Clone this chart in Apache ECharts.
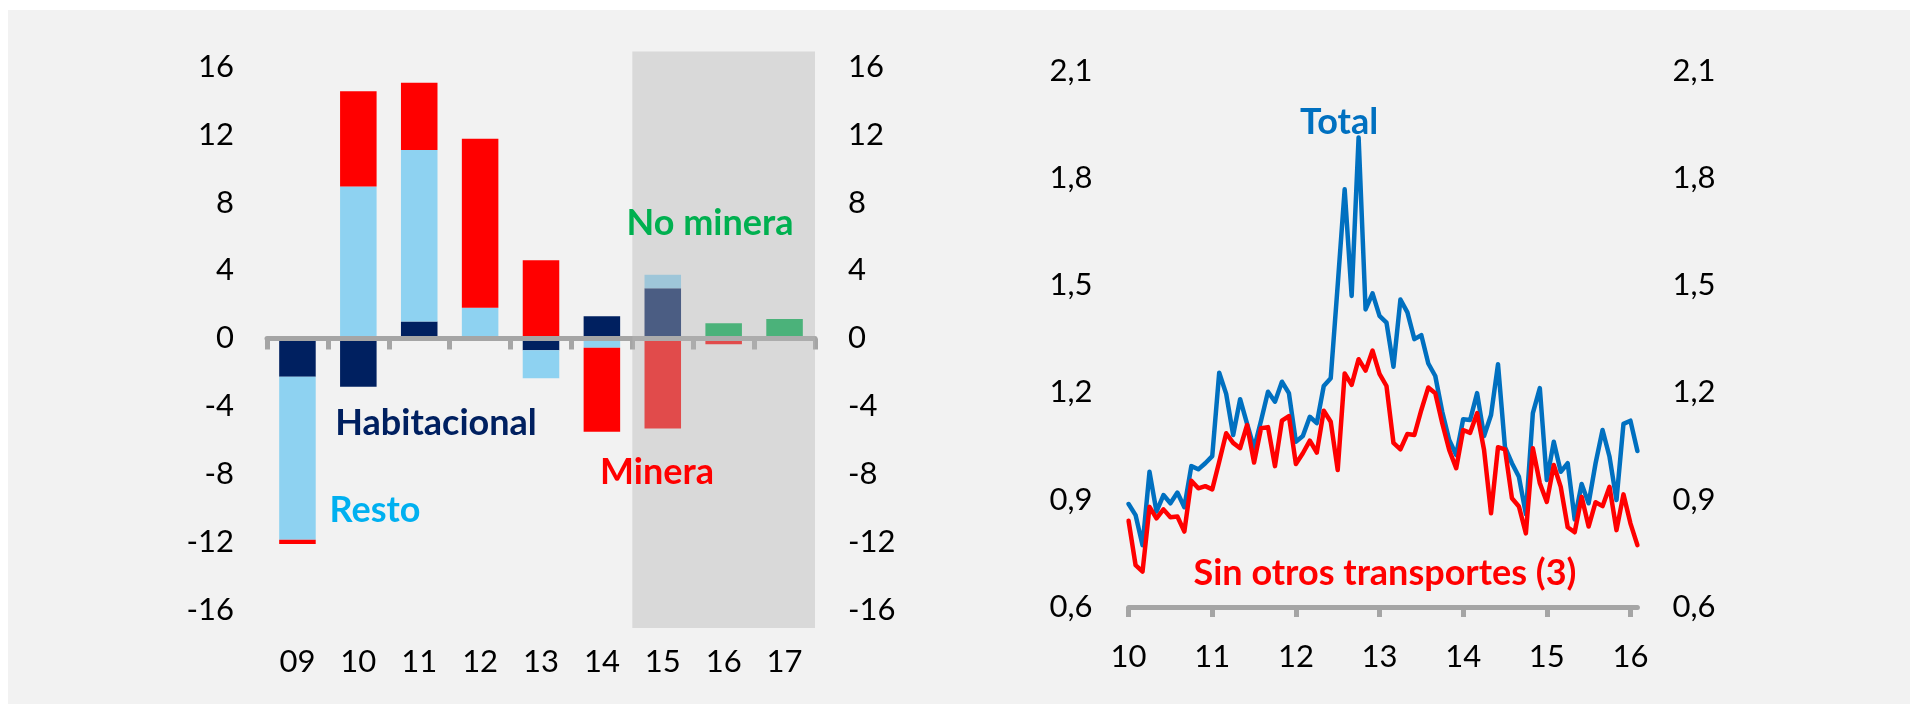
<!DOCTYPE html>
<html>
<head>
<meta charset="utf-8">
<script src="https://cdn.jsdelivr.net/npm/echarts@6/dist/echarts.min.js"></script>
<style>
  html, body { margin: 0; padding: 0; background: #fff; }
  #panel { position: absolute; left: 8px; top: 10px; width: 1902px; height: 694px; background: #f2f2f2; }
  #chart { position: absolute; left: 0; top: 0; width: 1910px; height: 704px; }
</style>
</head>
<body>
<div id="panel"></div>
<div id="chart"></div>
<script>
// izquierda: contribuciones por año (pp)
const years = ['09', '10', '11', '12', '13', '14', '15', '16', '17']
const habitacional = [-2.25, -2.85, 1.0, null, -0.7, 1.3, 2.95, null, null]
const resto = [-9.6, 8.95, 10.1, 1.8, -1.65, -0.55, 0.8, null, null]
const minera = [-0.25, 5.6, 3.95, 9.95, 4.6, -4.95, -5.3, -0.35, null]
const noMinera = [null, null, null, null, null, null, null, 0.9, 1.15]
const leftTicks = [-16, -12, -8, -4, 0, 4, 8, 12, 16]
// zona proyectada (índices de 15 a 17)
const projected = [[6, 8]]

// derecha: series mensuales ene-2010 a feb-2016
const total = [
  0.888, 0.857, 0.773, 0.978, 0.867, 0.913, 0.890, 0.920, 0.879, 0.994, 0.985, 1.002,
  1.022, 1.255, 1.196, 1.081, 1.181, 1.112, 1.044, 1.121, 1.202, 1.174, 1.230, 1.198,
  1.062, 1.078, 1.132, 1.114, 1.218, 1.240, 1.500, 1.768, 1.470, 1.913, 1.432, 1.477,
  1.414, 1.395, 1.272, 1.460, 1.424, 1.349, 1.360, 1.281, 1.246, 1.146, 1.067, 1.025,
  1.125, 1.123, 1.198, 1.078, 1.137, 1.279, 1.047, 1.002, 0.964, 0.860, 1.142, 1.212,
  0.955, 1.062, 0.978, 1.002, 0.845, 0.944, 0.890, 1.002, 1.095, 1.020, 0.899, 1.112,
  1.121, 1.036
]
const sinOtros = [
  0.841, 0.717, 0.699, 0.880, 0.848, 0.873, 0.851, 0.853, 0.811, 0.953, 0.932, 0.938,
  0.929, 1.006, 1.086, 1.059, 1.044, 1.109, 1.004, 1.100, 1.103, 0.994, 1.121, 1.134,
  1.000, 1.030, 1.065, 1.032, 1.149, 1.118, 0.983, 1.253, 1.221, 1.293, 1.261, 1.317,
  1.252, 1.218, 1.059, 1.041, 1.084, 1.081, 1.151, 1.214, 1.198, 1.114, 1.039, 0.988,
  1.095, 1.087, 1.142, 1.039, 0.862, 1.047, 1.041, 0.904, 0.881, 0.806, 1.044, 0.946,
  0.894, 0.997, 0.936, 0.823, 0.809, 0.908, 0.825, 0.893, 0.882, 0.936, 0.815, 0.915,
  0.834, 0.773
]
const yearLabels = ['10', '11', '12', '13', '14', '15', '16']
const rightTicks = [0.6, 0.9, 1.2, 1.5, 1.8, 2.1]

const months = []
for (let i = 0; i < total.length; i++) {
  months.push((2010 + Math.floor(i / 12)) + '-' + String(i % 12 + 1).padStart(2, '0'))
}

const FONT = 'Lato, "Liberation Sans", sans-serif'
const AXIS_GRAY = '#a5a5a5'
const labelStyle = { color: '#000', fontFamily: FONT, fontSize: 31 }

const chart = echarts.init(document.getElementById('chart'))

function annot(text, x, y, color) {
  return {
    type: 'text', x: x, y: y, z: 100,
    style: {
      text: text, fill: color, textAlign: 'center', textVerticalAlign: 'middle',
      font: 'bold 36px ' + FONT
    }
  }
}

const option = {
  animation: false,
  backgroundColor: 'transparent',
  grid: [
    { left: 267, right: 1095, top: 51.4, bottom: 76 },
    { left: 1128.6, right: 272.6, top: 70.6, bottom: 97 }
  ],
  xAxis: [
    {
      gridIndex: 0, type: 'category', data: years, z: 5,
      axisLine: { onZero: true, lineStyle: { color: AXIS_GRAY, width: 5 } },
      axisTick: { show: true, interval: 0, length: 11, lineStyle: { color: AXIS_GRAY, width: 5 } },
      axisLabel: { show: false }
    },
    {
      gridIndex: 0, type: 'category', data: years, position: 'bottom',
      axisLine: { show: false, onZero: false }, axisTick: { show: false },
      axisLabel: Object.assign({ interval: 0, margin: 18 }, labelStyle)
    },
    {
      gridIndex: 1, type: 'category', data: months, boundaryGap: false,
      axisLine: { lineStyle: { color: AXIS_GRAY, width: 5 } },
      axisTick: {
        show: true, length: 10, lineStyle: { color: AXIS_GRAY, width: 5 },
        interval: function (i) { return i % 12 === 0 }
      },
      axisLabel: Object.assign({
        margin: 34,
        interval: function (i) { return i % 12 === 0 },
        formatter: function (v, i) { return yearLabels[i / 12] }
      }, labelStyle)
    }
  ],
  yAxis: [
    {
      gridIndex: 0, type: 'value', min: -17.05, max: 16.9, position: 'left',
      splitLine: { show: false }, axisLine: { show: false }, axisTick: { show: false },
      axisLabel: Object.assign({ margin: 33, customValues: leftTicks }, labelStyle)
    },
    {
      gridIndex: 0, type: 'value', min: -17.05, max: 16.9, position: 'right',
      splitLine: { show: false }, axisLine: { show: false }, axisTick: { show: false },
      axisLabel: Object.assign({ margin: 33, customValues: leftTicks }, labelStyle)
    },
    {
      gridIndex: 1, type: 'value', min: 0.6, max: 2.1, position: 'left',
      splitLine: { show: false }, axisLine: { show: false }, axisTick: { show: false },
      axisLabel: Object.assign({
        margin: 36, customValues: rightTicks,
        formatter: function (v) { return v.toFixed(1).replace('.', ',') }
      }, labelStyle)
    },
    {
      gridIndex: 1, type: 'value', min: 0.6, max: 2.1, position: 'right',
      splitLine: { show: false }, axisLine: { show: false }, axisTick: { show: false },
      axisLabel: Object.assign({
        margin: 35, customValues: rightTicks,
        formatter: function (v) { return v.toFixed(1).replace('.', ',') }
      }, labelStyle)
    }
  ],
  series: [
    { name: 'Habitacional', type: 'bar', stack: 'c', barWidth: '60%', data: habitacional, itemStyle: { color: '#002060' } },
    { name: 'Resto', type: 'bar', stack: 'c', data: resto, itemStyle: { color: '#8ed2f1' } },
    { name: 'Minera', type: 'bar', stack: 'c', data: minera, itemStyle: { color: '#ff0000' } },
    { name: 'No minera', type: 'bar', stack: 'c', data: noMinera, itemStyle: { color: '#00b050' } },
    {
      name: 'proyeccion', type: 'custom', xAxisIndex: 0, yAxisIndex: 0, z: 10,
      data: projected, silent: true,
      renderItem: function (params, api) {
        const cs = params.coordSys
        const p0 = api.coord([api.value(0), 0])
        const p1 = api.coord([api.value(1), 0])
        const bw = api.size([1, 0])[0]
        return {
          type: 'rect',
          shape: { x: p0[0] - bw / 2, y: cs.y, width: p1[0] - p0[0] + bw, height: cs.height },
          style: { fill: 'rgba(183,183,183,0.41)' }
        }
      }
    },
    {
      name: 'Total', type: 'line', xAxisIndex: 2, yAxisIndex: 2, data: total, showSymbol: false,
      lineStyle: { color: '#0070c0', width: 4.5, cap: 'round', join: 'round' }
    },
    {
      name: 'Sin otros transportes (3)', type: 'line', xAxisIndex: 2, yAxisIndex: 2, data: sinOtros, showSymbol: false,
      lineStyle: { color: '#ff0000', width: 4.5, cap: 'round', join: 'round' }
    }
  ],
  graphic: [
    annot('No minera', 710, 223, '#00b050'),
    annot('Habitacional', 436, 423, '#002060'),
    annot('Minera', 657, 472, '#ff0000'),
    annot('Resto', 375, 510, '#00b0f0'),
    annot('Total', 1339, 122, '#0070c0'),
    annot('Sin otros transportes (3)', 1385, 573, '#ff0000')
  ]
}
chart.setOption(option)
</script>
</body>
</html>
